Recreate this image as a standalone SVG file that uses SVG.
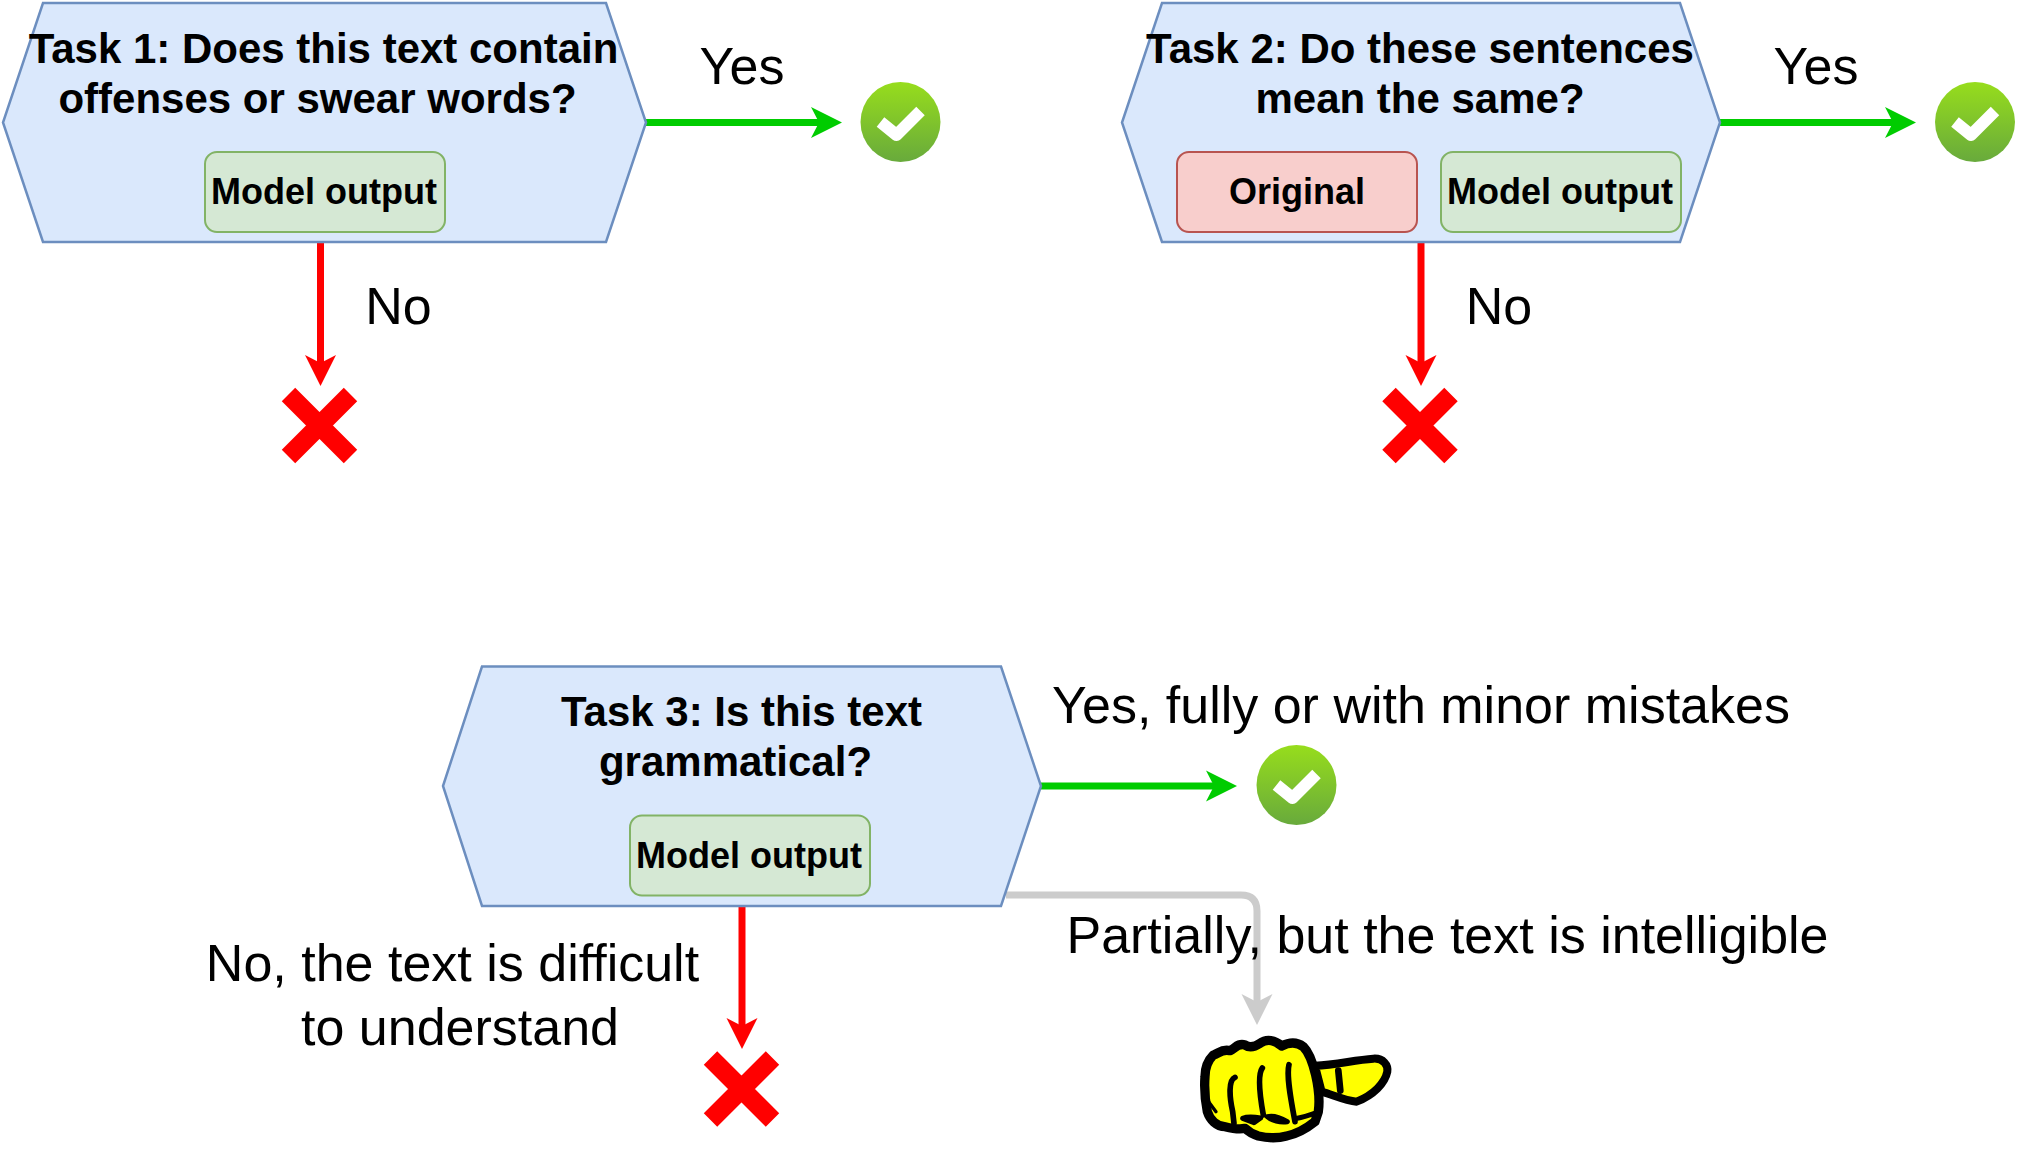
<svg xmlns="http://www.w3.org/2000/svg" width="2020" height="1150" viewBox="0 0 2020 1150">
<style>
text{font-family:"Liberation Sans",Arial,sans-serif;fill:#000;text-anchor:middle}
.title{font-size:42px;font-weight:700}
.inner{font-size:36px;font-weight:700}
.lbl{font-size:52px}
.hex{fill:#dae8fc;stroke:#6c8ebf;stroke-width:2.500}
.grn{fill:#d5e8d4;stroke:#82b366;stroke-width:2}
.rd{fill:#f8cecc;stroke:#b85450;stroke-width:2}
.conn{fill:none;stroke-width:7}
.x{stroke:#f00;stroke-width:19;fill:none}
</style>
<defs>
<linearGradient id="okFill" x1="0" y1="0" x2="0" y2="1"><stop offset="0" stop-color="#97dd1c"/><stop offset="1" stop-color="#68aa3c"/></linearGradient>
<g id="ok"><circle r="40" fill="url(#okFill)"/><path d="M-20,0 L-4,13 L20,-11" fill="none" stroke="#fff" stroke-width="12" stroke-linejoin="round"/></g>
<path id="cross" class="x" d="M-31,-31 L31,31 M31,-31 L-31,31"/>
<!-- the line stops inside the notch so the head keeps a sharp tip -->
<marker id="agrn" markerUnits="userSpaceOnUse" markerWidth="32" markerHeight="32" refX="11" refY="16" orient="auto"><path d="M0,0.500 L31,16 L0,31.500 L8,16Z" fill="#0c0"/></marker>
<marker id="ared" markerUnits="userSpaceOnUse" markerWidth="32" markerHeight="32" refX="11" refY="16" orient="auto"><path d="M0,0.500 L31,16 L0,31.500 L8,16Z" fill="#f00"/></marker>
<marker id="agry" markerUnits="userSpaceOnUse" markerWidth="32" markerHeight="32" refX="11" refY="16" orient="auto"><path d="M0,0.500 L31,16 L0,31.500 L8,16Z" fill="#ccc"/></marker>
</defs>

<g id="connectors">
<path class="conn" stroke="#0c0" marker-end="url(#agrn)" d="M646,122.500 H822"/>
<path class="conn" stroke="#f00" marker-end="url(#ared)" d="M320.500,243 V366"/>
<path class="conn" stroke="#0c0" marker-end="url(#agrn)" d="M1720,122.500 H1896"/>
<path class="conn" stroke="#f00" marker-end="url(#ared)" d="M1421,243 V366"/>
<path class="conn" stroke="#0c0" marker-end="url(#agrn)" d="M1041,786 H1217"/>
<path class="conn" stroke="#f00" marker-end="url(#ared)" d="M742,906 V1029"/>
<path class="conn" stroke="#ccc" marker-end="url(#agry)" d="M1006,895 H1241 Q1257,895 1257,911 V1005"/>
</g>

<g id="task1">
<polygon class="hex" points="43,3 606,3 646,122.500 606,242 43,242 3,122.500"/>
<text class="title" x="323.500" y="62.500">Task 1: Does this text contain</text>
<text class="title" x="317.500" y="112.500">offenses or swear words?</text>
</g>
<g id="task1-output"><rect class="grn" x="205" y="152" width="240" height="80" rx="12"/><text class="inner" x="324" y="204">Model output</text></g>
<g id="task1-yes"><use href="#ok" x="900.500" y="122"/><text class="lbl" x="742" y="84">Yes</text></g>
<g id="task1-no"><use href="#cross" x="319.500" y="425.500"/><text class="lbl" x="398.500" y="324">No</text></g>

<g id="task2">
<polygon class="hex" points="1162,3 1680,3 1720,122.500 1680,242 1162,242 1122,122.500"/>
<text class="title" x="1420" y="62.500">Task 2: Do these sentences</text>
<text class="title" x="1420" y="112.500">mean the same?</text>
</g>
<g id="task2-original"><rect class="rd" x="1177" y="152" width="240" height="80" rx="12"/><text class="inner" x="1297" y="204">Original</text></g>
<g id="task2-output"><rect class="grn" x="1441" y="152" width="240" height="80" rx="12"/><text class="inner" x="1560" y="204">Model output</text></g>
<g id="task2-yes"><use href="#ok" x="1975" y="122"/><text class="lbl" x="1816" y="84">Yes</text></g>
<g id="task2-no"><use href="#cross" x="1420" y="425.500"/><text class="lbl" x="1499" y="324">No</text></g>

<g id="task3">
<polygon class="hex" points="482,666.500 1001,666.500 1041,786 1001,906 482,906 443,786"/>
<text class="title" x="741.500" y="725.500">Task 3: Is this text</text>
<text class="title" x="735.500" y="775.500">grammatical?</text>
</g>
<g id="task3-output"><rect class="grn" x="630" y="815.500" width="240" height="80" rx="12"/><text class="inner" x="749" y="868">Model output</text></g>
<g id="task3-yes"><use href="#ok" x="1296.500" y="785"/><text class="lbl" x="1421" y="723">Yes, fully or with minor mistakes</text></g>
<g id="task3-no"><use href="#cross" x="741.500" y="1089"/><text class="lbl" x="452.500" y="981">No, the text is difficult</text><text class="lbl" x="460" y="1045">to understand</text></g>
<g id="task3-partial">
<text class="lbl" x="1447.500" y="953">Partially, but the text is intelligible</text>
<!-- sideways thumb: yellow hand with a heavy hand-drawn outline -->
<g transform="translate(1150,980) scale(.3333)" fill="none" stroke="#000" stroke-linejoin="round" stroke-linecap="round">
<path fill="#ff0" stroke-width="24" d="M495,257 C560,255 610,240 670,236 C700,234 715,255 712,275 C705,310 670,345 620,365 C585,362 550,345 515,335Z"/>
<path fill="#ff0" stroke-width="28" d="M190,225 C205,222 215,205 240,212 C255,205 265,188 285,195 C300,205 315,200 330,190 C350,175 375,180 395,198 C415,188 440,185 460,200 C480,220 490,255 497,285 C505,320 510,360 505,395 L495,425 C470,445 440,462 410,468 C385,475 355,475 325,468 C305,462 295,455 285,445 C265,450 245,445 225,440 C200,440 180,420 172,395 C165,360 162,330 165,290 C165,265 175,240 190,225Z"/>
<path stroke-width="20" d="M565,272 L571,332"/>
<path stroke-width="17" d="M255,292 C235,300 238,350 248,395 L252,430 M337,264 C322,285 330,350 340,405 M417,254 C408,290 425,370 435,425"/>
<path stroke-width="15" d="M278,415 C295,408 320,412 332,414 L312,428 Z M352,410 C370,405 395,415 412,425 C390,428 365,422 352,410Z M442,415 C460,412 480,405 500,398"/>
<path stroke-width="10" d="M172,360 L198,395"/>
</g>
</g>
</svg>
